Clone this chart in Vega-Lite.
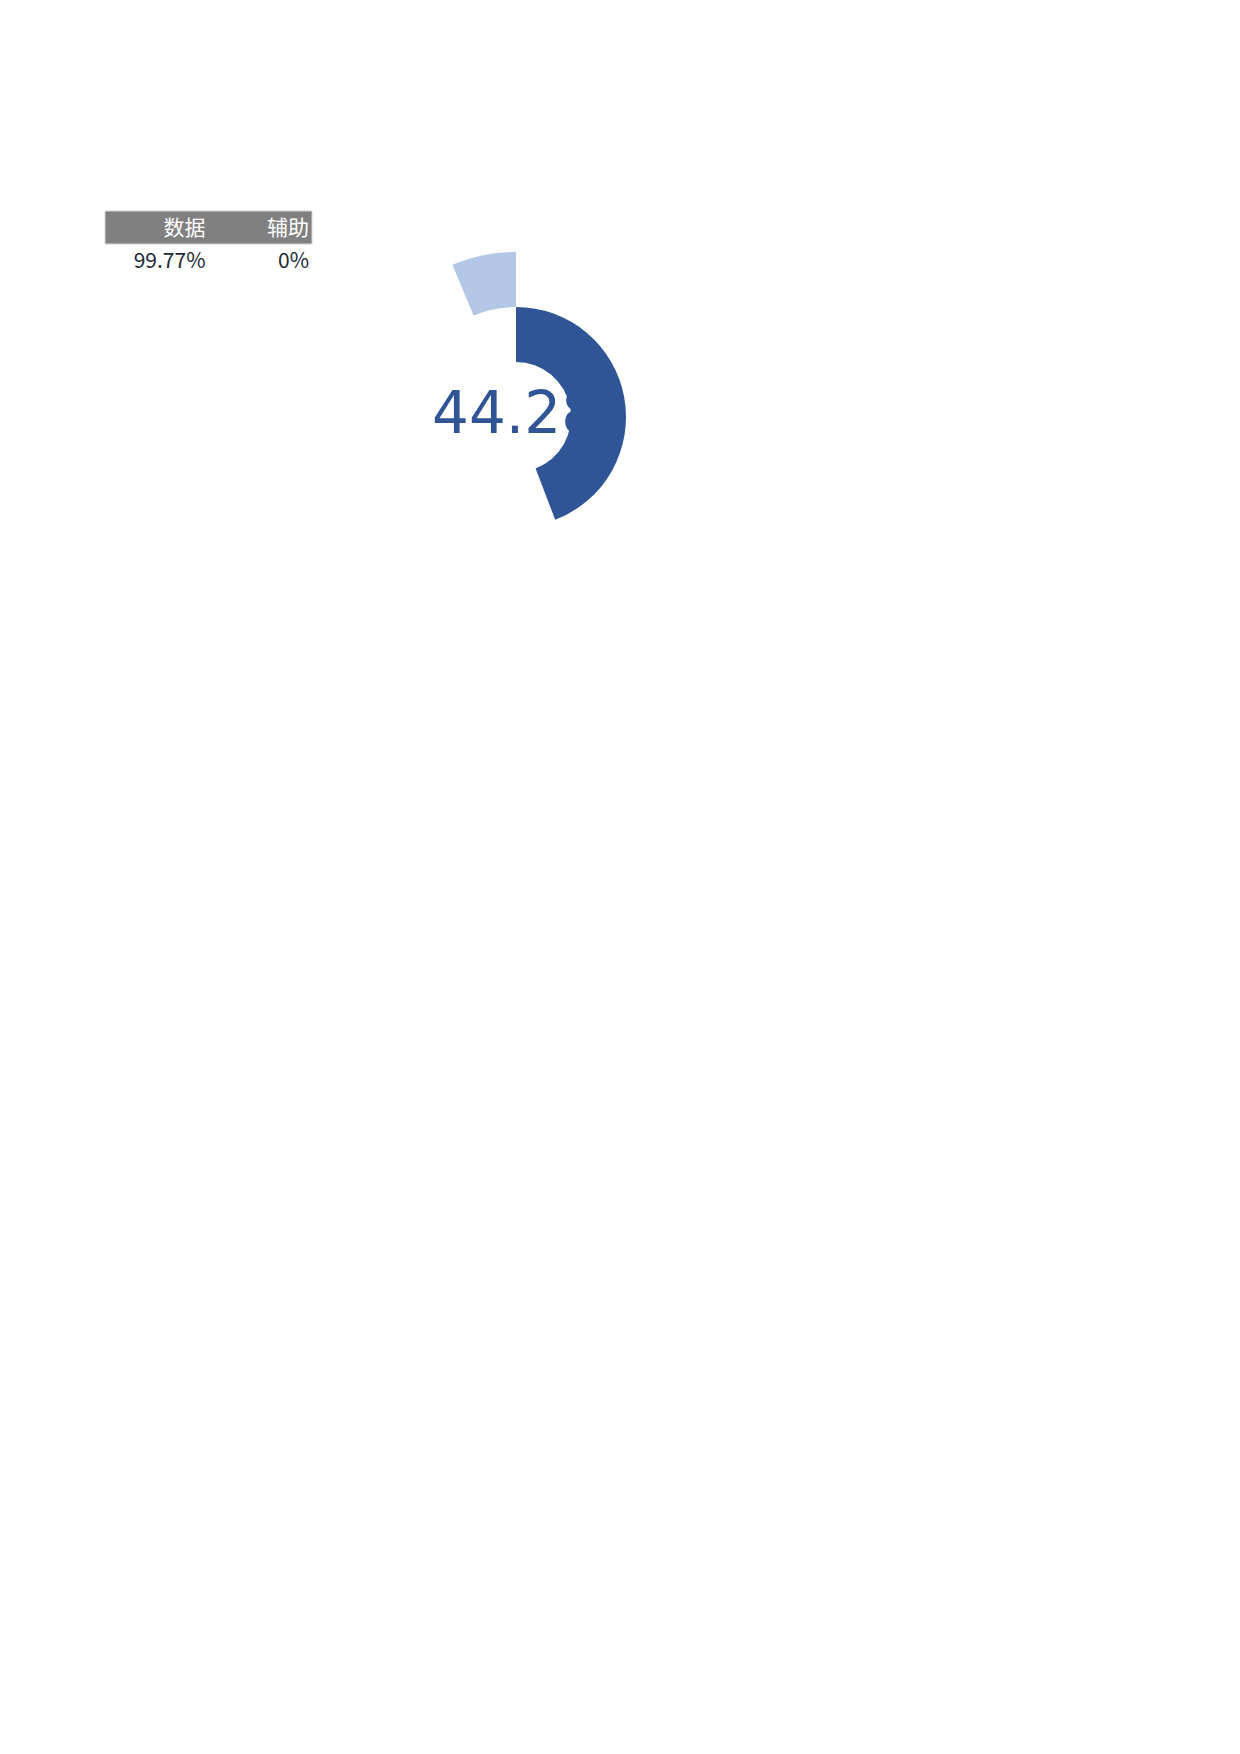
{
  "$schema": "https://vega.github.io/schema/vega-lite/v6.json",
  "background": "#ffffff",
  "padding": {"left": 104, "top": 210, "right": 0, "bottom": 0},
  "spacing": 0,
  "config": {"view": {"stroke": null}},
  "datasets": {
    "table": [
      {"row": "表头", "col": "数据", "label": "数据"},
      {"row": "表头", "col": "辅助", "label": "辅助"},
      {"row": "数值", "col": "数据", "label": "99.77%"},
      {"row": "数值", "col": "辅助", "label": "0%"}
    ],
    "rings": [
      {"ring": "内环", "start": 0, "end": 44.2},
      {"ring": "外环", "start": 93.7, "end": 100}
    ],
    "center": [{"label": "44.28"}]
  },
  "hconcat": [
    {
      "width": 207,
      "height": 66,
      "layer": [
        {
          "data": {"name": "table"},
          "transform": [{"filter": "datum.row === '表头'"}, {"aggregate": [{"op": "count", "as": "n"}], "groupby": ["row"]}],
          "mark": {"type": "rect", "fill": "#808080", "stroke": "#d4d4d4", "strokeWidth": 1},
          "encoding": {
            "y": {"field": "row", "type": "nominal", "scale": {"type": "band", "domain": ["表头", "数值"], "paddingInner": 0, "paddingOuter": 0}, "axis": null}
          }
        },
        {
          "data": {"name": "table"},
          "mark": {"type": "text", "align": "right", "baseline": "middle", "dx": -3, "dy": 1.5, "font": "Noto Sans CJK SC", "fontSize": 21},
          "encoding": {
            "x": {"field": "col", "type": "nominal", "bandPosition": 1, "scale": {"type": "band", "domain": ["数据", "辅助"], "paddingInner": 0, "paddingOuter": 0}, "axis": null},
            "y": {"field": "row", "type": "nominal", "bandPosition": 0.5, "scale": {"type": "band", "domain": ["表头", "数值"], "paddingInner": 0, "paddingOuter": 0}, "axis": null},
            "text": {"field": "label"},
            "color": {"field": "row", "type": "nominal", "scale": {"domain": ["表头", "数值"], "range": ["#ffffff", "#222a35"]}, "legend": null}
          }
        }
      ]
    },
    {
      "width": 406,
      "height": 412,
      "layer": [
        {
          "data": {"name": "center"},
          "mark": {"type": "text", "align": "left", "baseline": "alphabetic", "dx": -84, "dy": 15.5, "font": "DejaVu Sans", "fontSize": 58, "color": "#2f5597"},
          "encoding": {"text": {"field": "label"}}
        },
        {
          "data": {"name": "rings"},
          "transform": [{"filter": "datum.ring === '内环'"}],
          "mark": {"type": "arc", "radius": 110, "radius2": 55, "color": "#2f5597"},
          "encoding": {
            "theta": {"field": "start", "type": "quantitative", "scale": {"domain": [0, 100]}},
            "theta2": {"field": "end"}
          }
        },
        {
          "data": {"name": "rings"},
          "transform": [{"filter": "datum.ring === '外环'"}],
          "mark": {"type": "arc", "radius": 165, "radius2": 110, "color": "#b4c7e7"},
          "encoding": {
            "theta": {"field": "start", "type": "quantitative", "scale": {"domain": [0, 100]}},
            "theta2": {"field": "end"}
          }
        }
      ]
    }
  ]
}
